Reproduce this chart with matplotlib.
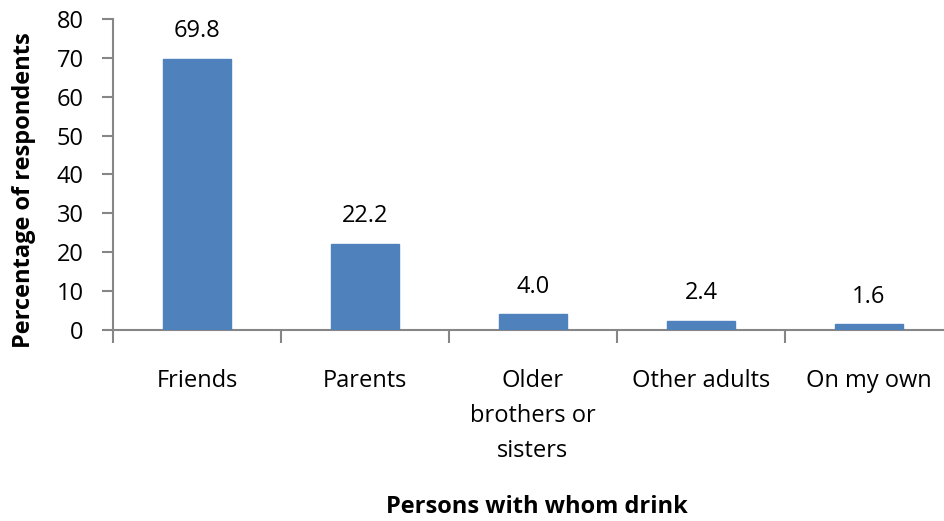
import matplotlib
matplotlib.use("Agg")
import matplotlib.pyplot as plt

categories = ["Friends", "Parents", "Older\nbrothers or\nsisters", "Other adults", "On my own"]
values = [69.8, 22.2, 4.0, 2.4, 1.6]
value_labels = ["69.8", "22.2", "4.0", "2.4", "1.6"]
yticks = [0, 10, 20, 30, 40, 50, 60, 70, 80]

plt.rcParams['font.family'] = ['Open Sans', 'DejaVu Sans']
FS = 17

fig = plt.figure(figsize=(9.44, 5.21), dpi=100)
W, H = 944, 521
left, right, top, bottom = 113, 113 + 5 * 168, 19, 330
ax = fig.add_axes([left / W, (H - bottom) / H, (right - left) / W, (bottom - top) / H])

x = list(range(len(categories)))
bars = ax.bar(x, values, width=0.4, color="#4F81BD", edgecolor="#4F81BD", zorder=3)
for xi, v, lab in zip(x, values, value_labels):
    ax.annotate(lab, (xi, v), xytext=(0, 11), textcoords="offset points",
                ha="center", va="bottom", fontsize=FS, color="#000000")

ax.set_xlim(-0.5, len(categories) - 0.5)
ax.set_ylim(0, 80)
ax.set_yticks(yticks)
ax.set_yticklabels([str(t) for t in yticks], fontsize=FS)

ax.set_xticks([i - 0.5 for i in range(len(categories) + 1)])
ax.set_xticklabels([])
ax.set_xticks(x, minor=True)
ax.set_xticklabels(categories, minor=True, fontsize=FS, linespacing=1.62, va="top")
ax.tick_params(axis="x", which="minor", length=0, pad=28)
ax.tick_params(axis="x", which="major", length=9, width=1.5, color="#868686", direction="out")
ax.tick_params(axis="y", length=8, width=1.5, color="#868686", direction="out", pad=13)

for s in ["top", "right"]:
    ax.spines[s].set_visible(False)
for s in ["left", "bottom"]:
    ax.spines[s].set_color("#868686")
    ax.spines[s].set_linewidth(1.5)

ax.set_ylabel("Percentage of respondents", fontsize=FS, fontweight="bold")
ax.yaxis.set_label_coords((36 - left) / (right - left), (bottom - 190) / (bottom - top))
fig.text(537 / W, 1 - 507 / H, "Persons with whom drink", fontsize=FS, fontweight="bold",
         ha="center", va="center")

fig.savefig("out.png", dpi=100)
